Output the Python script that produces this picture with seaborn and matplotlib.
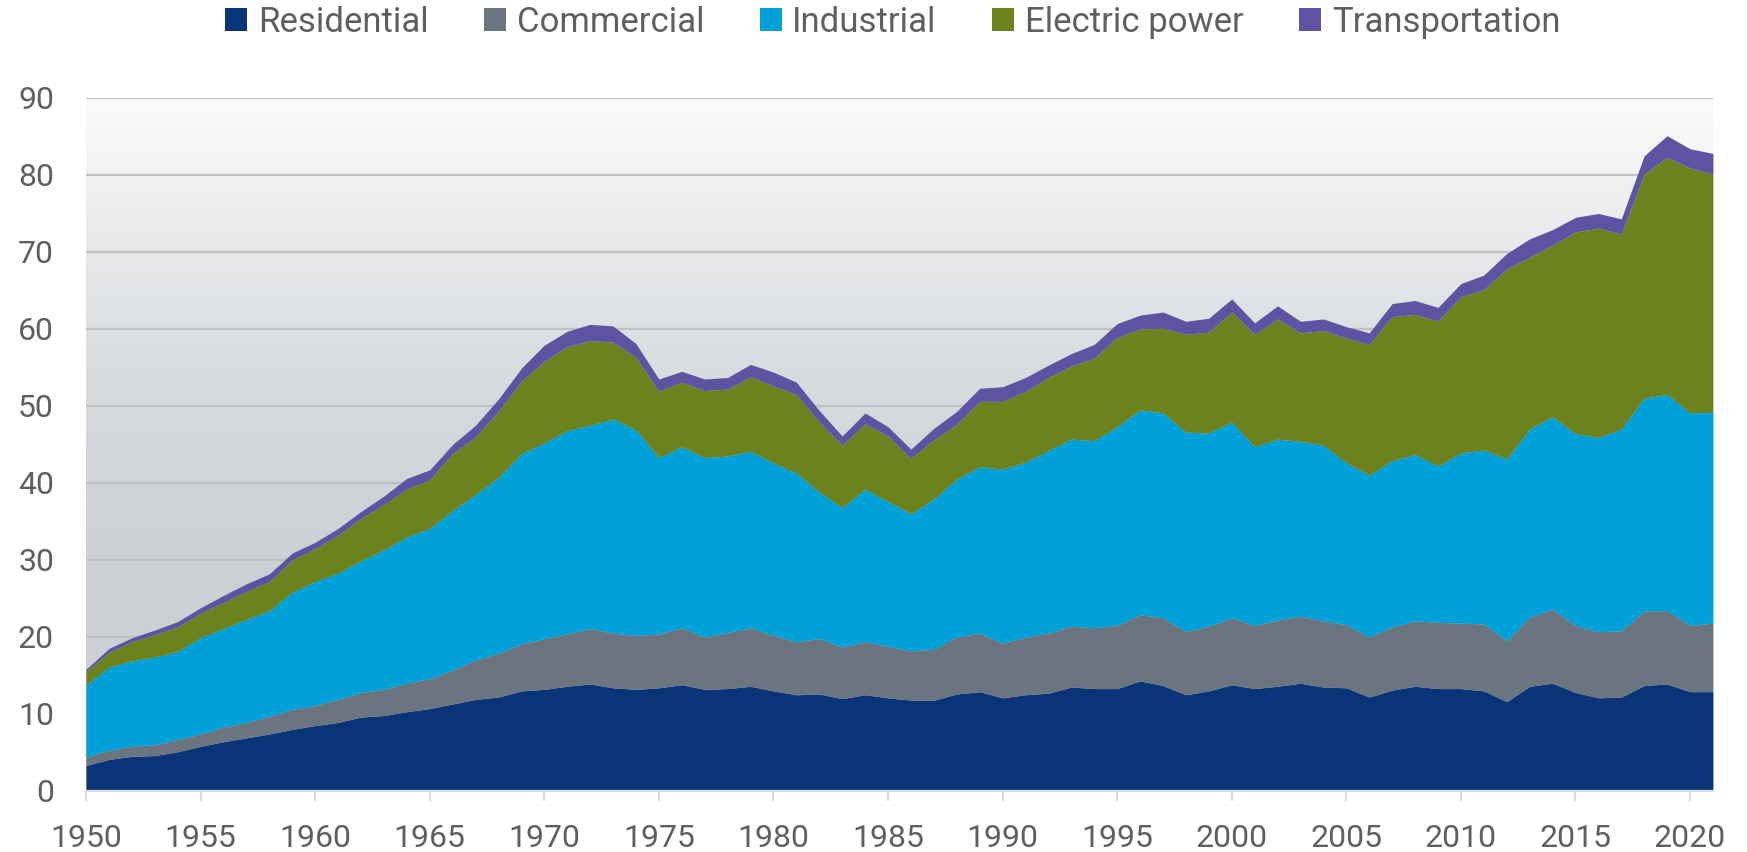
import numpy as np
import matplotlib.pyplot as plt
import seaborn as sns
from matplotlib.colors import LinearSegmentedColormap

# Annual values by sector, 1950-2021
years = list(range(1950, 2022))

residential = [3.3, 4.1, 4.5, 4.6, 5.1, 5.8, 6.4, 6.9, 7.4, 8.0,
               8.5, 8.9, 9.6, 9.8, 10.3, 10.7, 11.3, 11.9, 12.2, 13.0,
               13.2, 13.6, 13.9, 13.4, 13.2, 13.4, 13.8, 13.2, 13.3, 13.6,
               13.0, 12.5, 12.6, 12.0, 12.5, 12.1, 11.8, 11.8, 12.6, 12.9,
               12.1, 12.5, 12.7, 13.5, 13.3, 13.3, 14.3, 13.7, 12.5, 13.0,
               13.8, 13.3, 13.6, 14.0, 13.5, 13.4, 12.2, 13.1, 13.6, 13.3,
               13.3, 13.0, 11.6, 13.6, 14.0, 12.8, 12.1, 12.2, 13.7, 13.9,
               12.9, 12.9]

commercial = [1.1, 1.2, 1.3, 1.4, 1.6, 1.6, 1.9, 2.0, 2.3, 2.6,
              2.6, 3.0, 3.2, 3.4, 3.7, 3.9, 4.4, 5.1, 5.7, 6.1,
              6.6, 6.8, 7.2, 7.1, 7.0, 7.0, 7.4, 6.8, 7.3, 7.6,
              7.2, 6.9, 7.2, 6.7, 6.9, 6.7, 6.4, 6.6, 7.4, 7.6,
              7.1, 7.5, 7.8, 7.9, 7.9, 8.2, 8.6, 8.8, 8.2, 8.4,
              8.7, 8.2, 8.6, 8.7, 8.6, 8.2, 7.8, 8.2, 8.5, 8.6,
              8.5, 8.7, 7.9, 9.0, 9.6, 8.7, 8.6, 8.6, 9.7, 9.5,
              8.6, 8.9]

industrial = [9.3, 10.8, 11.1, 11.4, 11.4, 12.5, 12.8, 13.4, 13.7, 15.2,
              16.1, 16.4, 17.1, 18.1, 19.0, 19.5, 20.7, 21.5, 22.8, 24.7,
              25.4, 26.4, 26.4, 27.8, 26.7, 22.9, 23.5, 23.3, 22.9, 22.9,
              22.4, 21.9, 19.0, 18.1, 19.8, 18.8, 17.8, 19.5, 20.5, 21.6,
              22.6, 22.7, 23.7, 24.3, 24.3, 25.8, 26.6, 26.6, 25.9, 25.1,
              25.4, 23.2, 23.5, 22.7, 22.8, 21.0, 21.0, 21.6, 21.6, 20.3,
              22.1, 22.6, 23.6, 24.4, 25.0, 24.9, 25.2, 26.2, 27.6, 28.1,
              27.6, 27.4]

electric_power = [1.8, 1.9, 2.5, 2.9, 3.2, 3.2, 3.4, 3.6, 3.8, 4.2,
                  4.3, 4.9, 5.5, 5.9, 6.2, 6.3, 7.4, 7.5, 8.6, 9.4,
                  10.6, 10.9, 11.0, 10.0, 9.4, 8.6, 8.4, 8.7, 8.7, 9.7,
                  10.0, 10.2, 9.1, 8.1, 8.5, 8.5, 7.2, 7.7, 7.1, 8.5,
                  8.8, 9.2, 9.5, 9.5, 10.7, 11.6, 10.5, 11.0, 12.7, 13.1,
                  14.3, 14.6, 15.6, 14.1, 14.9, 16.2, 17.0, 18.7, 18.2, 18.8,
                  20.3, 20.8, 24.7, 22.3, 22.3, 26.2, 27.2, 25.3, 29.1, 30.8,
                  31.8, 30.9]

transportation = [0.3, 0.5, 0.5, 0.6, 0.7, 0.7, 0.9, 1.0, 1.0, 0.9,
                  0.8, 0.9, 0.9, 1.1, 1.4, 1.3, 1.2, 1.5, 1.6, 1.7,
                  2.1, 2.0, 2.1, 2.1, 1.8, 1.6, 1.4, 1.5, 1.5, 1.6,
                  1.8, 1.6, 1.5, 1.2, 1.4, 1.2, 1.2, 1.5, 1.7, 1.7,
                  1.9, 1.8, 1.6, 1.6, 1.8, 1.8, 1.8, 2.1, 1.7, 1.8,
                  1.7, 1.5, 1.7, 1.5, 1.5, 1.5, 1.5, 1.7, 1.8, 1.8,
                  1.7, 1.9, 2.0, 2.4, 2.0, 1.9, 1.9, 2.0, 2.4, 2.8,
                  2.5, 2.7]

labels = ['Residential', 'Commercial', 'Industrial', 'Electric power', 'Transportation']
colors = ['#093477', '#6b7580', '#00a0d9', '#6b821e', '#5e52a2']
x_ticks = list(range(1950, 2021, 5))
y_ticks = list(range(0, 91, 10))

sns.set_theme(style='white')
plt.rcParams['font.family'] = ['Roboto', 'DejaVu Sans']
text_color = '#5f5f5f'

fig = plt.figure(figsize=(17.47, 8.52), dpi=100)
ax = fig.add_axes([0.0492, 0.0716, 0.9313, 0.8134])

# Background gradient, light at the top, grey toward the bottom
bg_cmap = LinearSegmentedColormap.from_list(
    'bg', [(0.0, '#cbcfd3'), (0.33, '#cdd1d5'), (0.55, '#d5d9dc'),
           (0.78, '#e6e8ea'), (1.0, '#fbfbfb')])
grad = np.linspace(0, 1, 256).reshape(-1, 1)
ax.imshow(grad, cmap=bg_cmap, origin='lower', aspect='auto',
          extent=[years[0], years[-1], 0, 90], zorder=0)

ax.stackplot(years, residential, commercial, industrial, electric_power,
             transportation, labels=labels, colors=colors, linewidth=0, zorder=2)

ax.set_xlim(years[0], years[-1])
ax.set_ylim(0, 90)
ax.set_xticks(x_ticks)
ax.set_yticks(y_ticks)
# grid sits between the gradient and the areas
ax.set_axisbelow(True)
ax.yaxis.grid(True, color='#c0c0c0', linewidth=1.6)
ax.xaxis.grid(False)

sns.despine(ax=ax, left=True, top=True, right=True)
ax.spines['bottom'].set_color('#dcdcdc')
ax.spines['bottom'].set_linewidth(1.6)
ax.spines['bottom'].set_zorder(3)
ax.tick_params(axis='x', bottom=True, direction='out', length=7, width=1.6,
               color='#dcdcdc', pad=17, labelsize=23, labelcolor=text_color)
ax.tick_params(axis='y', left=False, pad=17, labelsize=23, labelcolor=text_color)

handles, lbls = ax.get_legend_handles_labels()
fig.legend(handles, lbls, loc='center', bbox_to_anchor=(0.511, 0.974), ncol=5,
           frameon=False, fontsize=25, labelcolor=text_color,
           handlelength=0.64, handleheight=0.64, handletextpad=0.3,
           columnspacing=1.6)

fig.savefig('out.png', dpi=100)
